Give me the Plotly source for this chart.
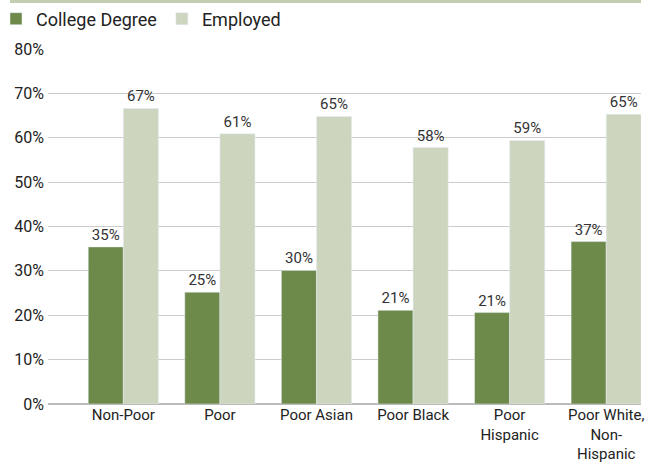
import plotly.graph_objects as go

categories = ["Non-Poor", "Poor", "Poor Asian", "Poor Black", "Poor<br>Hispanic", "Poor White,<br>Non-<br>Hispanic"]
college_degree = [35.4, 25.2, 30.1, 21.1, 20.6, 36.6]
employed = [66.6, 60.9, 64.8, 57.8, 59.4, 65.3]
y_ticks = [0, 10, 20, 30, 40, 50, 60, 70, 80]
y_tick_labels = [f"{v}%" for v in y_ticks]

DARK = "#6e8a4a"
LIGHT = "#cdd5bf"
FONT = "Roboto, Noto Sans, sans-serif"

L, R, T, B = 48, 9, 49, 61
PW = 650 - L - R
PH = 465 - T - B

fig = go.Figure()
fig.add_trace(go.Bar(
    name="College Degree", x=categories, y=college_degree, marker_color=DARK,
    text=[f"{v:.0f}%" for v in college_degree], textposition="outside",
    textfont=dict(size=15, color="#333333"), cliponaxis=False,
))
fig.add_trace(go.Bar(
    name="Employed", x=categories, y=employed, marker_color=LIGHT,
    text=[f"{v:.0f}%" for v in employed], textposition="outside",
    textfont=dict(size=15, color="#333333"), cliponaxis=False,
))

fig.update_layout(
    width=650, height=465,
    margin=dict(l=L, r=R, t=T, b=B, autoexpand=False),
    paper_bgcolor="white", plot_bgcolor="white",
    font=dict(family=FONT, color="#222222", size=15),
    barmode="group", bargap=0.273, bargroupgap=0,
    showlegend=True,
    legend=dict(orientation="h", x=(-4 - L) / PW, xanchor="left",
                y=(465 - B - 19) / PH, yanchor="middle",
                font=dict(size=18, color="#222222"), itemwidth=30, traceorder="normal",
                bgcolor="rgba(0,0,0,0)", borderwidth=0),
    xaxis=dict(range=[-0.78, 5.36], showgrid=False, showline=False, ticks="",
               ticklabelstandoff=0,
               tickfont=dict(size=15, color="#222222"), fixedrange=True),
    yaxis=dict(range=[0, 80], tickvals=y_ticks, ticktext=y_tick_labels,
               showgrid=True, gridcolor="#cccccc", gridwidth=1, zeroline=True,
               zerolinecolor="#bbbbbb", zerolinewidth=1.5, ticks="",
               ticklabelstandoff=3,
               tickfont=dict(size=16, color="#222222"), fixedrange=True),
    shapes=[dict(type="line", xref="paper", yref="paper",
                 x0=(10 - L) / PW, x1=1.0, y0=(465 - B - 1.5) / PH, y1=(465 - B - 1.5) / PH,
                 line=dict(color="#c3cdb0", width=3))],
)

fig.write_html("out.html", config={"displayModeBar": False, "staticPlot": True},
               post_script="document.body.style.margin='0';document.body.style.overflow='hidden';")
